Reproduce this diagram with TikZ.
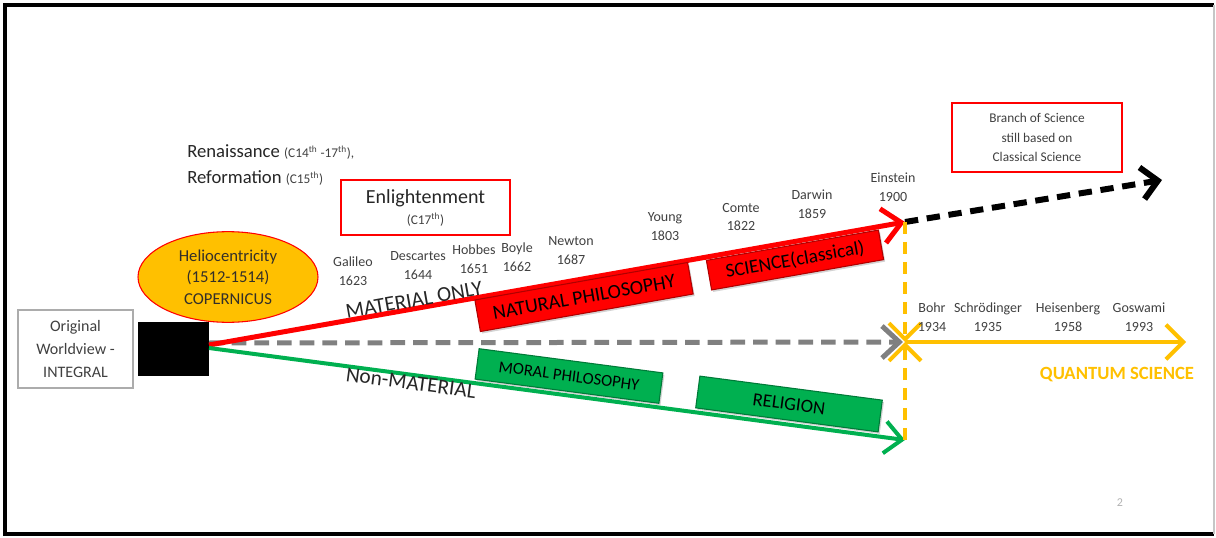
\documentclass[tikz,border=0pt]{standalone}
\usepackage{fontspec}
\setmainfont{Carlito}
\usetikzlibrary{arrows.meta,shadows,shapes.geometric}

\definecolor{hred}{HTML}{FF0000}
\definecolor{hredd}{HTML}{B00000}
\definecolor{hgreen}{HTML}{00B050}
\definecolor{hgreend}{HTML}{007A38}
\definecolor{hgold}{HTML}{FFC000}
\definecolor{hgray}{HTML}{808080}
\definecolor{txt}{HTML}{404040}
\definecolor{txtdark}{HTML}{262626}

\tikzset{
  person/.style={align=center, inner sep=0pt, text=txt,
    font=\fontsize{10.5}{14.2}\selectfont},
  redbar/.style={draw=hredd, line width=0.8pt, fill=hred, inner sep=0pt,
    rotate=10, drop shadow={opacity=0.35, shadow xshift=1.2pt, shadow yshift=-1.5pt}},
  greenbar/.style={draw=hgreend, line width=0.8pt, fill=hgreen, inner sep=0pt,
    rotate=-7.5, drop shadow={opacity=0.35, shadow xshift=1.2pt, shadow yshift=-1.5pt}},
  redframe/.style={draw=hred, line width=1.6pt, fill=white, inner sep=0pt},
}

\begin{document}
\begin{tikzpicture}[x=0.75pt, y=-0.75pt]
\useasboundingbox (0,0) rectangle (1216,538);

% slide frame
\draw[black, line width=3pt] (1214,5) -- (5,5) -- (5,534) -- (1214,534);
\draw[gray!45, line width=1.2pt] (1214,5) -- (1214,534);

% starting blocks
\node[draw=gray!65, line width=1.9pt, minimum width=86pt, minimum height=58.5pt,
      align=center, text=txt, font=\fontsize{12}{17}\selectfont, inner sep=0pt]
      (orig) at (75.5,349) {Original\\Worldview -\\INTEGRAL};
\node[fill=black, minimum width=53pt, minimum height=40.5pt, inner sep=0pt]
      (sq) at (173.5,349) {};

% branch points
\coordinate (r0) at (209,345);
\coordinate (g0) at (209,348);
\coordinate (k0) at (209,343);
\coordinate (J) at (905,222);
\coordinate (Q) at (905,342);
\coordinate (Qg) at (903,342);
\coordinate (G) at (905,440);
\coordinate (Bend) at (1162,180);
\coordinate (Qend) at (1186,342);

% main timelines
\draw[hgray, line width=3.75pt, dash pattern=on 11pt off 6pt,
      -{Straight Barb[length=13pt, width=24pt]}] (k0) -- (Qg);
\draw[hred, line width=3.75pt, -{Straight Barb[length=14pt, width=26pt]}] (r0) -- (J);
\draw[hgreen, line width=3pt, -{Straight Barb[length=13pt, width=24pt]}] (g0) -- (G);
\draw[black, line width=4.5pt, dash pattern=on 10pt off 6.5pt,
      -{Straight Barb[length=12pt, width=24pt]}] (J) -- (Bend);
\draw[hgold, line width=3pt, dash pattern=on 9pt off 6pt,
      -{Straight Barb[length=12pt, width=24pt]}] (J) -- (Q);
\draw[hgold, line width=3pt, dash pattern=on 9pt off 6pt,
      -{Straight Barb[length=12pt, width=24pt]}] (G) -- (Q);
\draw[hgold, line width=3pt, -{Straight Barb[length=13pt, width=26pt]}] (Q) -- (Qend);

% eras
\node[anchor=west, align=left, inner sep=0pt, text=txtdark,
      font=\fontsize{14}{19.5}\selectfont] (eras) at (187,165)
  {Renaissance {\fontsize{10}{12}\selectfont\color{txt}(C14\textsuperscript{th} -17\textsuperscript{th}),}\\
   Reformation {\fontsize{10}{12}\selectfont\color{txt}(C15\textsuperscript{th})}};
\node[redframe, minimum width=127pt, minimum height=41pt] (enl) at (425.5,207.5) {};
\node[text=txtdark, font=\fontsize{15}{16}\selectfont, inner sep=0pt] (enlt) at (425.5,198) {Enlightenment};
\node[text=txt, font=\fontsize{10}{12}\selectfont, inner sep=0pt] (enls) at (425.5,220) {(C17\textsuperscript{th})};

% heliocentric model
\node[ellipse, draw=hred, line width=0.8pt, fill=hgold, minimum width=135pt,
      minimum height=68pt, inner sep=0pt, align=center, text=black!85!olive,
      font=\fontsize{12.5}{16}\selectfont] (helio) at (228,277)
  {Heliocentricity\\(1512-1514)\\COPERNICUS};

% bars along the timelines
\node[redbar, minimum width=162pt, minimum height=24pt] (natphil) at (584,297)
  {\fontsize{15}{16}\selectfont NATURAL PHILOSOPHY};
\node[redbar, minimum width=131pt, minimum height=22.5pt] (sci) at (795,260)
  {\fontsize{14.5}{16}\selectfont SCIENCE(classical)};
\node[greenbar, minimum width=139pt, minimum height=23pt] (morphil) at (569,376)
  {\fontsize{12.5}{14}\selectfont MORAL PHILOSOPHY};
\node[greenbar, minimum width=138pt, minimum height=24pt] (relig) at (789,404)
  {\fontsize{14}{15}\selectfont RELIGION};

% line labels
\node[rotate=10, inner sep=0pt, text=txtdark, font=\fontsize{16}{18}\selectfont]
  (mat) at (414,300) {MATERIAL ONLY};
\node[rotate=-7.5, inner sep=0pt, text=txtdark, font=\fontsize{16}{18}\selectfont]
  (nonmat) at (411,383) {Non-MATERIAL};

% thinkers
\foreach \id/\who/\yr/\px/\py in {
  galileo/Galileo/1623/353/271, descartes/Descartes/1644/418/266,
  hobbes/Hobbes/1651/474/259, boyle/Boyle/1662/517/257,
  newton/Newton/1687/571/251, young/Young/1803/665/227,
  comte/Comte/1822/741/217, darwin/Darwin/1859/812/204,
  einstein/Einstein/1900/893/187,
  bohr/Bohr/1934/932/317, schroedinger/Schrödinger/1935/988/317,
  heisenberg/Heisenberg/1958/1068/317, goswami/Goswami/1993/1139/317}
  \node[person] (\id) at (\px,\py) {\who\\\yr};

% notes
\node[redframe, minimum width=127.5pt, minimum height=52pt, align=center,
      text=txt, font=\fontsize{10}{14.6}\selectfont] (branch) at (1037,137.5)
  {Branch of Science\\still based on\\Classical Science};
\node[text=hgold, font=\bfseries\fontsize{14}{16}\selectfont, inner sep=0pt]
  (quant) at (1117,375) {QUANTUM SCIENCE};
\node[text=gray!60, font=\fontsize{9}{10}\selectfont, inner sep=0pt] (pg) at (1120,503) {2};
\end{tikzpicture}
\end{document}
